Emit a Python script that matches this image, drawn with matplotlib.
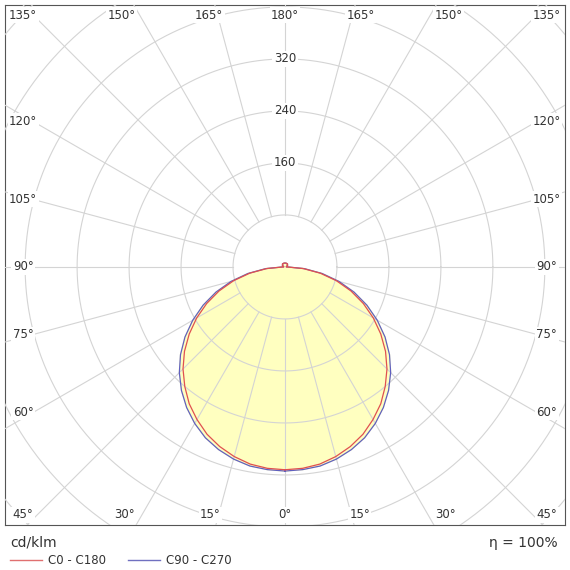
import matplotlib
matplotlib.use("Agg")
import matplotlib.pyplot as plt
import numpy as np

# gamma angles (deg) and luminous intensity (cd/klm)
gamma = [0, 5, 10, 15, 20, 25, 30, 35, 40, 45, 50, 55, 60, 65, 70, 75, 80, 85, 90,
         95, 100, 105, 110, 115, 120, 125, 130, 135, 140, 145, 150, 155, 160, 165, 170, 175, 180]
c0_c180 = [312, 311, 308, 302, 294, 284, 271, 257, 240, 222, 202, 180, 157, 133, 108, 82, 55, 28, 3,
           2, 2, 3, 3, 4, 4, 5, 5, 5, 6, 6, 6, 6, 6, 6, 6, 6, 6]
c90_c270 = [314, 313, 311, 306, 299, 290, 278, 264, 248, 230, 210, 188, 164, 139, 113, 86, 58, 30, 4,
            2, 2, 3, 3, 4, 4, 5, 5, 5, 6, 6, 6, 6, 6, 6, 6, 6, 6]
ring_values = [80, 160, 240, 320, 400, 480, 560, 640]
ring_labels = [160, 240, 320]
spoke_angles = list(range(0, 360, 15))

fig = plt.figure(figsize=(5.7, 5.7), dpi=100)
ax = fig.add_axes([5/570, 45/570, 560/570, 520/570])
xmin, xmax, ymin, ymax = -431, 431, -397, 403
ax.set_xlim(xmin, xmax)
ax.set_ylim(ymin, ymax)
ax.set_xticks([]); ax.set_yticks([])
for s in ax.spines.values():
    s.set_color("#555555"); s.set_linewidth(0.8)

gc = "#d4d4d4"
t = np.linspace(0, 2*np.pi, 400)
for r in ring_values:
    ax.plot(r*np.cos(t), r*np.sin(t), color=gc, lw=0.8, zorder=4)
for a in spoke_angles:
    th = np.radians(a)
    ax.plot([80*np.sin(th), 900*np.sin(th)], [-80*np.cos(th), -900*np.cos(th)],
            color=gc, lw=0.8, zorder=4)
for v in ring_labels:
    ax.text(0, v, str(v), ha="center", va="center", fontsize=8.5, color="#333333",
            bbox=dict(fc="white", ec="none", pad=1), zorder=6)

# angle labels near where spokes meet the frame
def edge_label(a, sign):
    th = np.radians(a)
    dx, dy = sign*np.sin(th), -np.cos(th)
    ts = []
    if dx != 0:
        ts.append((xmax if dx > 0 else xmin) / dx)
    if dy != 0:
        ts.append((ymax if dy > 0 else ymin) / dy)
    tt = min(x for x in ts if x > 0)
    x, y = tt*dx, tt*dy
    if abs(x) >= xmax - 1:
        y *= 0.9
    else:
        x *= 1.08
    x = np.clip(x, xmin + 28, xmax - 28)
    y = np.clip(y, ymin + 16, ymax - 16)
    ax.text(x, y, f"{a}°", ha="center", va="center", fontsize=8.5, color="#333333",
            bbox=dict(fc="white", ec="none", pad=1), zorder=6)

for a in range(0, 181, 15):
    edge_label(a, 1)
    if a not in (0, 180):
        edge_label(a, -1)

def curve(vals):
    g = np.radians(gamma)
    v = np.array(vals)
    x = np.concatenate([v*np.sin(g), (-v*np.sin(g))[::-1]])
    y = np.concatenate([-v*np.cos(g), (-v*np.cos(g))[::-1]])
    return x, y

xr, yr = curve(c0_c180)
xb, yb = curve(c90_c270)
ax.fill(xb, yb, color="#ffffc0", zorder=3)
ax.plot(xb, yb, color="#6060c0", lw=0.9, zorder=5)
ax.plot(xr, yr, color="#e05050", lw=0.9, zorder=5)

fig.text(10/570, 1 - 543/570, "cd/klm", fontsize=10, va="center", color="#333333")
fig.text(558/570, 1 - 543/570, "η = 100%", fontsize=10, va="center", ha="right", color="#333333")
fig.lines.append(plt.Line2D([10/570, 42/570], [1 - 560/570]*2, color="#e07070", lw=1, transform=fig.transFigure))
fig.text(48/570, 1 - 560/570, "C0 - C180", fontsize=8.5, va="center", color="#333333")
fig.lines.append(plt.Line2D([128/570, 160/570], [1 - 560/570]*2, color="#7070c0", lw=1, transform=fig.transFigure))
fig.text(166/570, 1 - 560/570, "C90 - C270", fontsize=8.5, va="center", color="#333333")

fig.savefig("out.png", dpi=100)
